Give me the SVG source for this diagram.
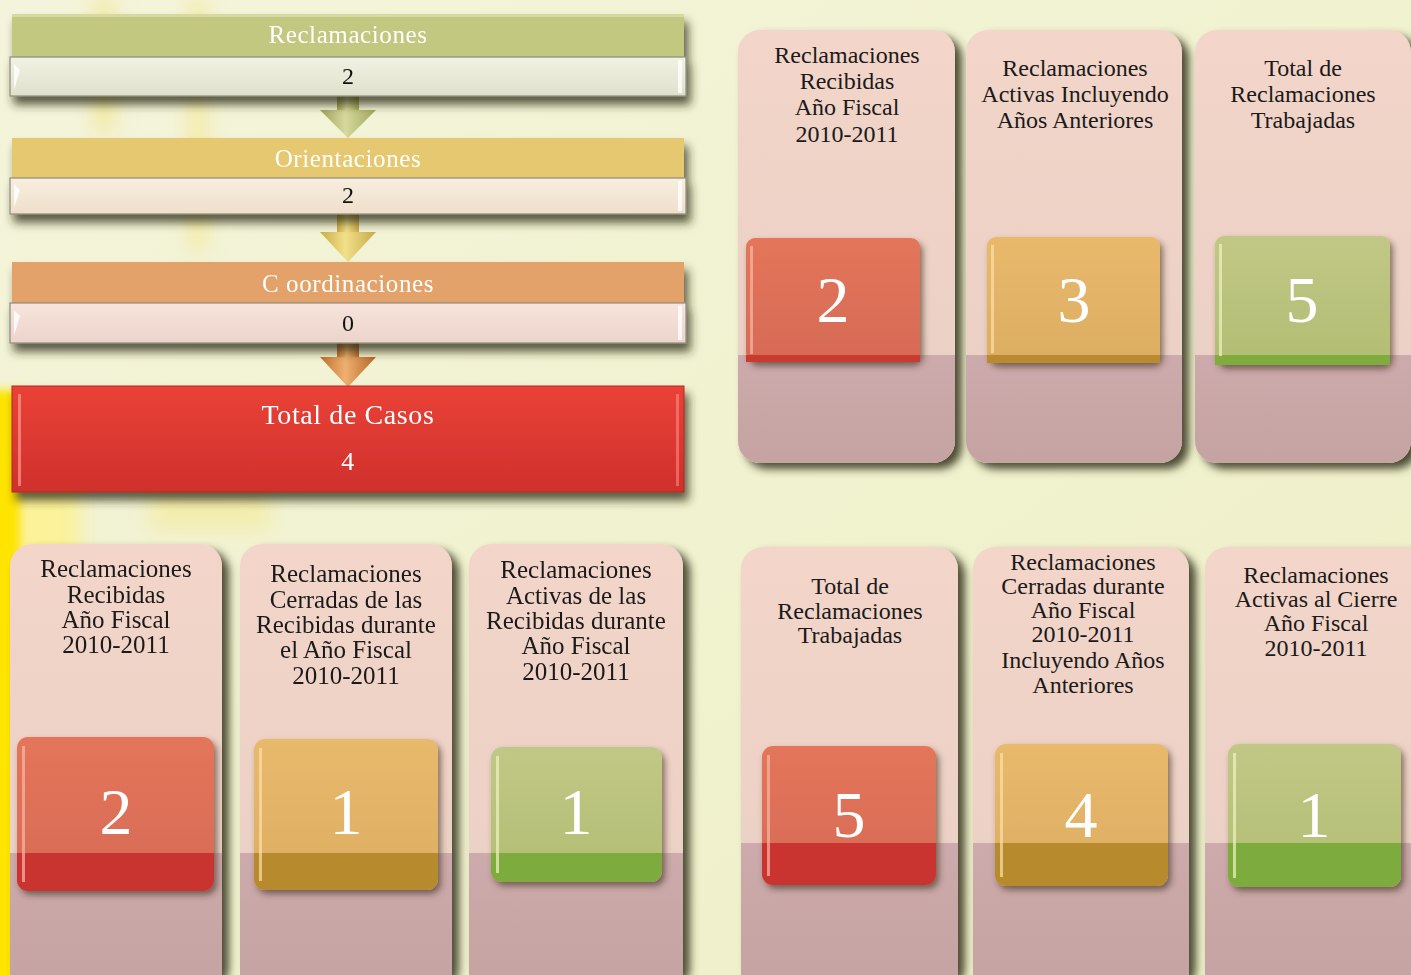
<svg xmlns="http://www.w3.org/2000/svg" width="1411" height="975" viewBox="0 0 1411 975">
<defs>
<style>
.t{font-family:"Liberation Serif","Times New Roman",serif;text-anchor:middle}
.lbl{font-size:24px;fill:#1a1a1a}
.lbl2{font-size:25px;fill:#1a1a1a}
.big{font-size:66px;fill:#ffffff}
.hdr{font-size:25px;fill:#ffffff;letter-spacing:0.6px}
.val{font-size:24px;fill:#111111}
.bar{stroke:#8e8a7c;stroke-width:1.2}
</style>
<linearGradient id="bg" x1="0" y1="0" x2="1" y2="1">
<stop offset="0" stop-color="#f4f4dc"/>
<stop offset="0.5" stop-color="#f1f2cf"/>
<stop offset="1" stop-color="#eef0c8"/>
</linearGradient>
<linearGradient id="col" x1="0" y1="0" x2="0" y2="1">
<stop offset="0" stop-color="#f3d5c9"/>
<stop offset="1" stop-color="#e9cfc4"/>
</linearGradient>
<linearGradient id="colDark" x1="0" y1="0" x2="0" y2="1">
<stop offset="0" stop-color="#cdaaab"/>
<stop offset="1" stop-color="#c5a3a2"/>
</linearGradient>
<linearGradient id="red" x1="0" y1="0" x2="0" y2="1">
<stop offset="0" stop-color="#e3755a"/>
<stop offset="1" stop-color="#d76a56"/>
</linearGradient>
<linearGradient id="gold" x1="0" y1="0" x2="0" y2="1">
<stop offset="0" stop-color="#e9b96c"/>
<stop offset="1" stop-color="#dcae62"/>
</linearGradient>
<linearGradient id="green" x1="0" y1="0" x2="0" y2="1">
<stop offset="0" stop-color="#c1c886"/>
<stop offset="1" stop-color="#b2bd72"/>
</linearGradient>
<linearGradient id="totalG" x1="0" y1="0" x2="0" y2="1">
<stop offset="0" stop-color="#ea4237"/>
<stop offset="1" stop-color="#cf302c"/>
</linearGradient>
<linearGradient id="v1" x1="0" y1="0" x2="0" y2="1">
<stop offset="0" stop-color="#f2f2e4"/>
<stop offset="1" stop-color="#dfe0cc"/>
</linearGradient>
<linearGradient id="v2" x1="0" y1="0" x2="0" y2="1">
<stop offset="0" stop-color="#f8eee0"/>
<stop offset="1" stop-color="#eedfca"/>
</linearGradient>
<linearGradient id="v3" x1="0" y1="0" x2="0" y2="1">
<stop offset="0" stop-color="#f7e4dc"/>
<stop offset="1" stop-color="#ecd4cb"/>
</linearGradient>
<linearGradient id="a1" x1="0" y1="0" x2="1" y2="0">
<stop offset="0" stop-color="#9da257"/>
<stop offset="0.45" stop-color="#d6d99c"/>
<stop offset="1" stop-color="#a2a75c"/>
</linearGradient>
<linearGradient id="a2" x1="0" y1="0" x2="1" y2="0">
<stop offset="0" stop-color="#c9ad45"/>
<stop offset="0.45" stop-color="#f2e08a"/>
<stop offset="1" stop-color="#c8aa48"/>
</linearGradient>
<linearGradient id="a3" x1="0" y1="0" x2="1" y2="0">
<stop offset="0" stop-color="#c0702e"/>
<stop offset="0.45" stop-color="#eeb070"/>
<stop offset="1" stop-color="#b8682a"/>
</linearGradient>
<filter id="sh" x="-10%" y="-10%" width="130%" height="130%">
<feDropShadow dx="7" dy="6" stdDeviation="4" flood-color="#3a3a22" flood-opacity="0.9"/>
</filter>
<filter id="shi" x="-10%" y="-10%" width="130%" height="130%">
<feDropShadow dx="3" dy="4" stdDeviation="3" flood-color="#3a2a22" flood-opacity="0.6"/>
</filter>
<filter id="shb" x="-5%" y="-20%" width="115%" height="170%">
<feDropShadow dx="4" dy="8" stdDeviation="5" flood-color="#2a2a18" flood-opacity="0.75"/>
</filter>
<filter id="bl" x="-50%" y="-50%" width="200%" height="200%">
<feGaussianBlur stdDeviation="10"/>
</filter>
<filter id="bl2" x="-50%" y="-50%" width="200%" height="200%">
<feGaussianBlur stdDeviation="4"/>
</filter>
</defs>

<!-- background -->
<rect x="0" y="0" width="1411" height="975" fill="url(#bg)"/>
<g filter="url(#bl)">
<rect x="0" y="420" width="80" height="560" fill="#fff180" opacity="0.7"/>
<rect x="95" y="0" width="18" height="130" fill="#f4e27a" opacity="0.7"/>
<rect x="190" y="0" width="16" height="250" fill="#f6e37c" opacity="0.6"/>
<rect x="150" y="480" width="120" height="50" fill="#f6ea8a" opacity="0.5"/>
</g>
<g filter="url(#bl2)">
<rect x="-20" y="390" width="40" height="600" fill="#ffe400"/>
</g>

<!-- connectors -->
<g id="connectors">
<g id="arrow1">
<rect x="337" y="92" width="22" height="22" fill="url(#a1)"/>
<polygon points="320,110 376,110 348,138" fill="url(#a1)"/>
</g>
<g id="arrow2">
<rect x="337" y="212" width="22" height="22" fill="url(#a2)"/>
<polygon points="320,232 376,232 348,262" fill="url(#a2)"/>
</g>
<g id="arrow3">
<rect x="337" y="341" width="22" height="20" fill="url(#a3)"/>
<polygon points="320,357 376,357 348,387" fill="url(#a3)"/>
</g>
</g>

<!-- left flow -->
<g id="reclamaciones">
<g filter="url(#shb)">
<rect x="12" y="14" width="672" height="43" fill="#c3c880"/>
<rect class="bar" x="10" y="57" width="676" height="39" fill="url(#v1)"/>
</g>
<rect x="12" y="14" width="672" height="3" fill="#d6daa0"/>
<polygon points="14,64 20,70 14,90" fill="#ffffff" opacity="0.8"/>
<rect x="678" y="60" width="4" height="33" fill="#ffffff" opacity="0.8"/>
<text class="t hdr" x="348" y="43">Reclamaciones</text>
<text class="t val" x="348" y="84">2</text>
</g>

<g id="orientaciones">
<g filter="url(#shb)">
<rect x="12" y="138" width="672" height="40" fill="#e6c870"/>
<rect class="bar" x="10" y="178" width="676" height="36" fill="url(#v2)"/>
</g>
<polygon points="14,184 20,190 14,208" fill="#ffffff" opacity="0.8"/>
<rect x="678" y="181" width="4" height="30" fill="#ffffff" opacity="0.8"/>
<text class="t hdr" x="348" y="167">Orientaciones</text>
<text class="t val" x="348" y="203">2</text>
</g>

<g id="coordinaciones">
<g filter="url(#shb)">
<rect x="12" y="262" width="672" height="41" fill="#e3a26b"/>
<rect class="bar" x="10" y="303" width="676" height="40" fill="url(#v3)"/>
</g>
<polygon points="14,310 20,316 14,336" fill="#ffffff" opacity="0.8"/>
<rect x="678" y="306" width="4" height="34" fill="#ffffff" opacity="0.8"/>
<text class="t hdr" x="348" y="292">C oordinaciones</text>
<text class="t val" x="348" y="331">0</text>
</g>

<g id="total-casos">
<rect x="12" y="386" width="672" height="106" fill="url(#totalG)" stroke="#b02a25" stroke-width="1" filter="url(#shb)"/>
<rect x="18" y="394" width="3" height="92" fill="#ff9a90" opacity="0.7"/>
<rect x="676" y="394" width="3" height="92" fill="#ff9a90" opacity="0.5"/>
<text class="t hdr" x="348" y="424" style="font-size:28px">Total de Casos</text>
<text class="t hdr" x="348" y="470" style="font-size:26px">4</text>
</g>

<!-- top right panels -->
<g id="top-recibidas">
<rect x="738" y="30" width="217" height="433" rx="22" fill="url(#col)" filter="url(#sh)"/>
<path d="M738,355 H955 V441 a22,22 0 0 1 -22,22 H760 a22,22 0 0 1 -22,-22 Z" fill="url(#colDark)"/>
<rect x="746" y="238" width="174" height="124" rx="9" fill="url(#red)" filter="url(#shi)"/>
<path d="M746,355 H920 V362 H746 Z" fill="#c93a2f"/>
<rect x="750" y="246" width="3" height="108" fill="#f8b8a8" opacity="0.7"/>
<text class="t lbl" x="847" y="63">Reclamaciones</text>
<text class="t lbl" x="847" y="89">Recibidas</text>
<text class="t lbl" x="847" y="115">Año Fiscal</text>
<text class="t lbl" x="847" y="142">2010-2011</text>
<text class="t big" x="833" y="322">2</text>
</g>

<g id="top-activas">
<rect x="966" y="30" width="216" height="433" rx="22" fill="url(#col)" filter="url(#sh)"/>
<path d="M966,355 H1182 V441 a22,22 0 0 1 -22,22 H988 a22,22 0 0 1 -22,-22 Z" fill="url(#colDark)"/>
<rect x="987" y="237" width="173" height="126" rx="9" fill="url(#gold)" filter="url(#shi)"/>
<path d="M987,355 H1160 V363 H987 Z" fill="#b98a30"/>
<rect x="991" y="245" width="3" height="108" fill="#fbe0a8" opacity="0.7"/>
<text class="t lbl" x="1075" y="76">Reclamaciones</text>
<text class="t lbl" x="1075" y="102">Activas Incluyendo</text>
<text class="t lbl" x="1075" y="128">Años Anteriores</text>
<text class="t big" x="1074" y="322">3</text>
</g>

<g id="top-trabajadas">
<rect x="1195" y="30" width="216" height="433" rx="22" fill="url(#col)" filter="url(#sh)"/>
<path d="M1195,355 H1411 V441 a22,22 0 0 1 -22,22 H1217 a22,22 0 0 1 -22,-22 Z" fill="url(#colDark)"/>
<rect x="1215" y="236" width="175" height="129" rx="9" fill="url(#green)" filter="url(#shi)"/>
<path d="M1215,355 H1390 V365 H1215 Z" fill="#7fab3f"/>
<rect x="1219" y="244" width="3" height="112" fill="#eef3c0" opacity="0.7"/>
<text class="t lbl" x="1303" y="76">Total de</text>
<text class="t lbl" x="1303" y="102">Reclamaciones</text>
<text class="t lbl" x="1303" y="128">Trabajadas</text>
<text class="t big" x="1302" y="322">5</text>
</g>

<!-- bottom left panels -->
<g id="bl-recibidas">
<rect x="10" y="544" width="212" height="440" rx="22" fill="url(#col)" filter="url(#sh)"/>
<rect x="10" y="853" width="212" height="131" fill="url(#colDark)"/>
<rect x="17" y="737" width="197" height="154" rx="11" fill="url(#red)" filter="url(#shi)"/>
<path d="M17,853 H214 V880 a11,11 0 0 1 -11,11 H28 a11,11 0 0 1 -11,-11 Z" fill="#c93430"/>
<rect x="22" y="746" width="3" height="136" fill="#f8b8a8" opacity="0.7"/>
<text class="t lbl2" x="116" y="577">Reclamaciones</text>
<text class="t lbl2" x="116" y="603">Recibidas</text>
<text class="t lbl2" x="116" y="628">Año Fiscal</text>
<text class="t lbl2" x="116" y="653">2010-2011</text>
<text class="t big" x="116" y="834">2</text>
</g>

<g id="bl-cerradas">
<rect x="240" y="544" width="212" height="440" rx="22" fill="url(#col)" filter="url(#sh)"/>
<rect x="240" y="853" width="212" height="131" fill="url(#colDark)"/>
<rect x="254" y="739" width="184" height="151" rx="11" fill="url(#gold)" filter="url(#shi)"/>
<path d="M254,853 H438 V879 a11,11 0 0 1 -11,11 H265 a11,11 0 0 1 -11,-11 Z" fill="#b88a2e"/>
<rect x="259" y="748" width="3" height="133" fill="#fbe0a8" opacity="0.7"/>
<text class="t lbl2" x="346" y="582">Reclamaciones</text>
<text class="t lbl2" x="346" y="608">Cerradas de las</text>
<text class="t lbl2" x="346" y="633">Recibidas durante</text>
<text class="t lbl2" x="346" y="658">el Año Fiscal</text>
<text class="t lbl2" x="346" y="684">2010-2011</text>
<text class="t big" x="346" y="834">1</text>
</g>

<g id="bl-activas">
<rect x="469" y="544" width="214" height="440" rx="22" fill="url(#col)" filter="url(#sh)"/>
<rect x="469" y="853" width="214" height="131" fill="url(#colDark)"/>
<rect x="491" y="747" width="171" height="135" rx="11" fill="url(#green)" filter="url(#shi)"/>
<path d="M491,853 H662 V871 a11,11 0 0 1 -11,11 H502 a11,11 0 0 1 -11,-11 Z" fill="#7dab3e"/>
<rect x="496" y="756" width="3" height="117" fill="#eef3c0" opacity="0.7"/>
<text class="t lbl2" x="576" y="578">Reclamaciones</text>
<text class="t lbl2" x="576" y="604">Activas de las</text>
<text class="t lbl2" x="576" y="629">Recibidas durante</text>
<text class="t lbl2" x="576" y="654">Año Fiscal</text>
<text class="t lbl2" x="576" y="680">2010-2011</text>
<text class="t big" x="576" y="834">1</text>
</g>

<!-- bottom right panels -->
<g id="br-trabajadas">
<rect x="741" y="547" width="217" height="437" rx="22" fill="url(#col)" filter="url(#sh)"/>
<rect x="741" y="843" width="217" height="141" fill="url(#colDark)"/>
<rect x="762" y="746" width="174" height="139" rx="11" fill="url(#red)" filter="url(#shi)"/>
<path d="M762,843 H936 V874 a11,11 0 0 1 -11,11 H773 a11,11 0 0 1 -11,-11 Z" fill="#c93430"/>
<rect x="767" y="755" width="3" height="121" fill="#f8b8a8" opacity="0.7"/>
<text class="t lbl" x="850" y="594">Total de</text>
<text class="t lbl" x="850" y="619">Reclamaciones</text>
<text class="t lbl" x="850" y="643">Trabajadas</text>
<text class="t big" x="849" y="837">5</text>
</g>

<g id="br-cerradas">
<rect x="973" y="547" width="216" height="437" rx="22" fill="url(#col)" filter="url(#sh)"/>
<rect x="973" y="843" width="216" height="141" fill="url(#colDark)"/>
<rect x="995" y="744" width="173" height="142" rx="11" fill="url(#gold)" filter="url(#shi)"/>
<path d="M995,843 H1168 V875 a11,11 0 0 1 -11,11 H1006 a11,11 0 0 1 -11,-11 Z" fill="#b88a2e"/>
<rect x="1000" y="753" width="3" height="124" fill="#fbe0a8" opacity="0.7"/>
<text class="t lbl" x="1083" y="570">Reclamaciones</text>
<text class="t lbl" x="1083" y="594">Cerradas durante</text>
<text class="t lbl" x="1083" y="618">Año Fiscal</text>
<text class="t lbl" x="1083" y="642">2010-2011</text>
<text class="t lbl" x="1083" y="668">Incluyendo Años</text>
<text class="t lbl" x="1083" y="693">Anteriores</text>
<text class="t big" x="1081" y="837">4</text>
</g>

<g id="br-activas">
<rect x="1205" y="547" width="226" height="437" rx="22" fill="url(#col)" filter="url(#sh)"/>
<rect x="1205" y="843" width="226" height="141" fill="url(#colDark)"/>
<rect x="1228" y="744" width="173" height="143" rx="11" fill="url(#green)" filter="url(#shi)"/>
<path d="M1228,843 H1401 V876 a11,11 0 0 1 -11,11 H1239 a11,11 0 0 1 -11,-11 Z" fill="#7dab3e"/>
<rect x="1233" y="753" width="3" height="125" fill="#eef3c0" opacity="0.7"/>
<text class="t lbl" x="1316" y="583">Reclamaciones</text>
<text class="t lbl" x="1316" y="607">Activas al Cierre</text>
<text class="t lbl" x="1316" y="631">Año Fiscal</text>
<text class="t lbl" x="1316" y="656">2010-2011</text>
<text class="t big" x="1314" y="837">1</text>
</g>
</svg>
